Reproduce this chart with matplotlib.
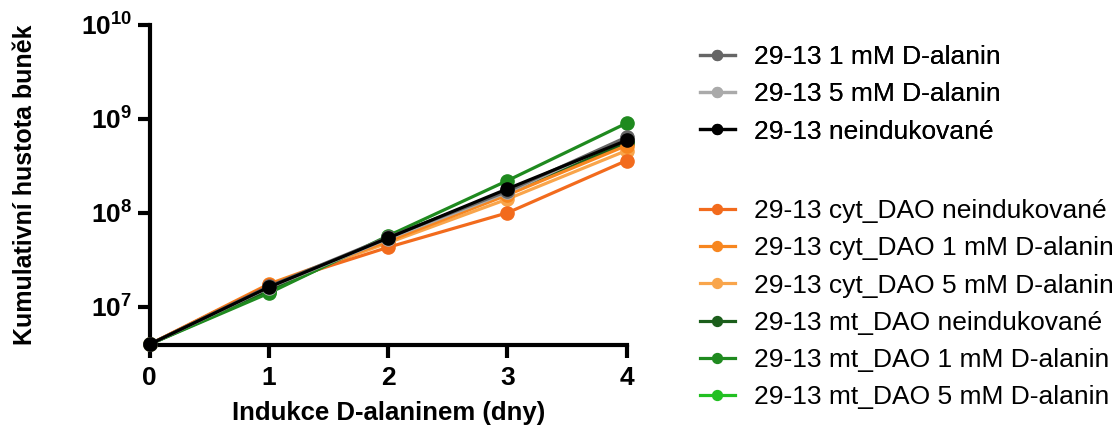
import matplotlib
matplotlib.use("Agg")
import matplotlib.pyplot as plt
from matplotlib.ticker import FixedLocator, NullLocator

plt.rcParams['font.family'] = ['Liberation Sans', 'DejaVu Sans']
plt.rcParams['mathtext.fontset'] = 'custom'
plt.rcParams['mathtext.rm'] = 'Liberation Sans:bold'
plt.rcParams['mathtext.bf'] = 'Liberation Sans:bold'

# days of induction
days = [0, 1, 2, 3, 4]

# cumulative cell density per series
wt_1mM = [4.0e6, 1.65e7, 5.5e7, 1.7e8, 6.4e8]
wt_5mM = [4.0e6, 1.60e7, 5.3e7, 1.65e8, 6.2e8]
wt_neind = [4.0e6, 1.62e7, 5.4e7, 1.8e8, 5.9e8]
cyt_neind = [4.0e6, 1.70e7, 4.3e7, 1.0e8, 3.6e8]
cyt_1mM = [4.0e6, 1.75e7, 5.0e7, 1.55e8, 5.2e8]
cyt_5mM = [4.0e6, 1.70e7, 4.8e7, 1.4e8, 4.6e8]
mt_neind = [4.0e6, 1.50e7, 5.2e7, 1.6e8, 5.5e8]
mt_1mM = [4.0e6, 1.40e7, 5.7e7, 2.2e8, 9.0e8]
mt_5mM = [4.0e6, 1.45e7, 5.5e7, 1.7e8, 5.6e8]

labels = ["29-13 1 mM D-alanin", "29-13 5 mM D-alanin", "29-13 neindukované",
          "29-13 cyt_DAO neindukované", "29-13 cyt_DAO 1 mM D-alanin",
          "29-13 cyt_DAO 5 mM D-alanin", "29-13 mt_DAO neindukované",
          "29-13 mt_DAO 1 mM D-alanin", "29-13 mt_DAO 5 mM D-alanin"]
series = [wt_1mM, wt_5mM, wt_neind, cyt_neind, cyt_1mM, cyt_5mM,
          mt_neind, mt_1mM, mt_5mM]
colors = ["#666666", "#aaaaaa", "#000000", "#f26b1d", "#f7861f", "#f9a54b",
          "#1b5e1b", "#1f8a1f", "#22c022"]

fig = plt.figure(figsize=(11.17, 4.28), dpi=100)
ax = fig.add_axes([0.134, 0.194, 0.427, 0.748])

# draw order: coloured series first, then greys, black on top
order = [8, 6, 5, 4, 3, 7, 1, 0, 2]
handles = {}
for i in order:
    h, = ax.plot(days, series[i], color=colors[i], marker='o', markersize=9.5,
                 linewidth=2.3, label=labels[i], clip_on=False, zorder=3 + (i == 2))
    handles[i] = h

ax.set_yscale('log')
ax.set_ylim(3.93e6, 1e10)
ax.set_xlim(0, 4)
ax.yaxis.set_major_locator(FixedLocator([1e7, 1e8, 1e9, 1e10]))
ax.yaxis.set_minor_locator(NullLocator())
ax.set_yticklabels([r'$\mathbf{10^{7}}$', r'$\mathbf{10^{8}}$',
                    r'$\mathbf{10^{9}}$', r'$\mathbf{10^{10}}$'])
ax.set_xticks(days)
ax.set_xticklabels([str(d) for d in days], fontweight='bold')

for side in ['top', 'right']:
    ax.spines[side].set_visible(False)
for side in ['left', 'bottom']:
    ax.spines[side].set_linewidth(3.0)
ax.tick_params(axis='both', width=3.0, length=9, labelsize=19, direction='out')
ax.tick_params(axis='x', pad=6)

ax.set_xlabel("Indukce D-alaninem (dny)", fontsize=18.5, fontweight='bold')
ax.set_ylabel("Kumulativní hustota buněk", fontsize=18, fontweight='bold')
ax.xaxis.set_label_coords(0.5, -0.175)
ax.yaxis.set_label_coords(-0.237, 0.5)

# two legend blocks: controls and DAO lines
leg_kw = dict(frameon=False, fontsize=19, handlelength=1.35, handletextpad=0.7,
              labelspacing=0.5, markerscale=0.75, loc='upper left')
leg1 = fig.legend([handles[i] for i in range(3)], labels[:3],
                  bbox_to_anchor=(0.605, 0.95), **leg_kw)
fig.add_artist(leg1)
fig.legend([handles[i] for i in range(3, 9)], labels[3:],
           bbox_to_anchor=(0.605, 0.59), **leg_kw)

fig.savefig("out.png", dpi=100)
